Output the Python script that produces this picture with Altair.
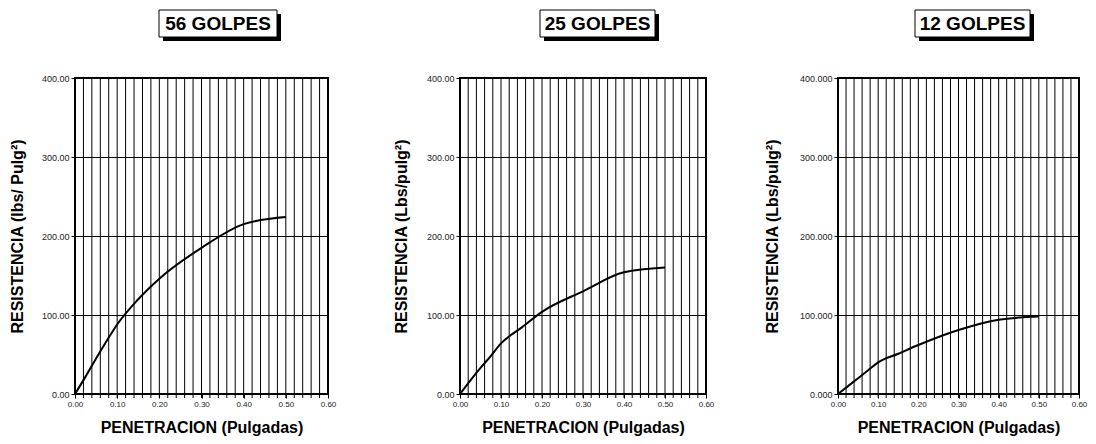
import altair as alt
import pandas as pd

# ---- data ----
penetracion = [0, 0.025, 0.05, 0.075, 0.10, 0.15, 0.20, 0.30, 0.40, 0.50]
res_56 = [0, 22, 45, 67, 88, 120, 146, 185, 215, 224]
res_25 = [0, 17, 33, 48, 64, 84, 104, 130, 154, 160]
res_12 = [0, 10, 20, 30, 40, 51, 62, 81, 94, 98]

titles = ["56 GOLPES", "25 GOLPES", "12 GOLPES"]
y_titles = ["RESISTENCIA (lbs/ Pulg²)", "RESISTENCIA (Lbs/pulg²)", "RESISTENCIA (Lbs/pulg²)"]
y_formats = [".2f", ".2f", ".3f"]
x_ticks = [0.0, 0.1, 0.2, 0.3, 0.4, 0.5, 0.6]
y_ticks = [0, 100, 200, 300, 400]
x_grid = [round(i * 0.02, 2) for i in range(1, 30)]

FONT = "Liberation Sans"
widths = [253, 246, 241]
SPACING = 132
HEIGHT = 316
TICK = 4
# title box placement (relative to plot area): left, right
boxes = [(84, 202), (80, 195), (77, 192)]
y_title_pad = [16, 17, 19]


def panel(values, title, ytitle, yfmt, width, box, ypad):
    df = pd.DataFrame({"pen": penetracion, "res": values})
    xs = alt.Scale(domain=[0, 0.6], nice=False, zero=False)
    ys = alt.Scale(domain=[0, 400], nice=False)

    # vertical grid every 0.02, extended below the frame as small ticks
    grid = alt.Chart(pd.DataFrame({"g": x_grid})).mark_rule(
        color="black", strokeWidth=1
    ).encode(
        x=alt.X("g:Q", scale=xs),
        y=alt.value(0),
        y2=alt.value(HEIGHT + TICK),
    )

    line = alt.Chart(df).mark_line(
        color="black", strokeWidth=2, interpolate="monotone"
    ).encode(
        x=alt.X(
            "pen:Q",
            scale=xs,
            axis=alt.Axis(
                values=x_ticks,
                format=".2f",
                labelFlush=False,
                labelOverlap=False,
                grid=False,
                domain=False,
                title="PENETRACION (Pulgadas)",
                titlePadding=11,
            ),
        ),
        y=alt.Y(
            "res:Q",
            scale=ys,
            axis=alt.Axis(
                values=y_ticks,
                format=yfmt,
                grid=True,
                gridColor="black",
                gridWidth=1,
                gridOpacity=1,
                domain=False,
                labelFlush=False,
                title=ytitle,
                titlePadding=ypad,
            ),
        ),
    )

    one = pd.DataFrame({"k": [0]})
    x0, x1 = box
    shadow = alt.Chart(one).mark_rect(color="black").encode(
        x=alt.value(x0 + 4), x2=alt.value(x1 + 4),
        y=alt.value(-64), y2=alt.value(-37),
    )
    rect = alt.Chart(one).mark_rect(
        fill="white", stroke="black", strokeWidth=1
    ).encode(
        x=alt.value(x0), x2=alt.value(x1),
        y=alt.value(-68), y2=alt.value(-41),
    )
    txt = alt.Chart(one).mark_text(
        text=title, font=FONT, fontSize=19, fontWeight="bold",
        align="center", baseline="middle", color="black",
    ).encode(x=alt.value((x0 + x1) / 2), y=alt.value(-54))

    return alt.layer(grid, line, shadow, rect, txt).properties(
        width=width, height=HEIGHT
    )


panels = [
    panel(v, t, yt, yf, w, b, yp)
    for v, t, yt, yf, w, b, yp in zip(
        [res_56, res_25, res_12], titles, y_titles, y_formats, widths, boxes, y_title_pad
    )
]

chart = alt.hconcat(*panels, spacing=SPACING, bounds="flush").properties(
    padding={"left": 0, "top": 0, "right": 0, "bottom": 0},
    background="white",
).configure_view(
    stroke="black", strokeWidth=2
).configure_axis(
    labelFont=FONT,
    labelFontSize=9,
    labelColor="#222",
    labelPadding=2,
    tickColor="black",
    tickSize=TICK,
    titleFont=FONT,
    titleFontSize=16,
    titleFontWeight="bold",
    titleColor="black",
).configure_axisX(labelFontSize=8)

chart.save("out.html", embed_options={"renderer": "svg", "actions": False})
